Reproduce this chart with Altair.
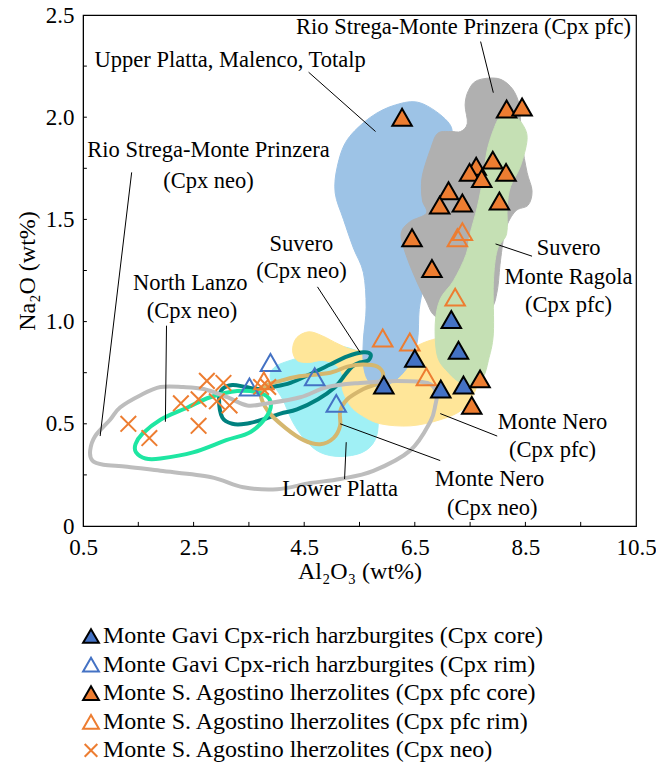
import altair as alt
import pandas as pd

# ---- point data (wt%) ----
GAVI_CORE_X = [7.16, 7.29, 6.50, 5.94, 6.97, 7.38]
GAVI_CORE_Y = [1.01, 0.86, 0.82, 0.69, 0.67, 0.69]
GAVI_RIM_X = [3.89, 3.51, 4.69, 5.08]
GAVI_RIM_Y = [0.80, 0.68, 0.73, 0.60]
AGO_PFC_CORE_X = [6.27, 8.16, 8.44, 7.91, 7.61, 7.49, 7.71, 8.15, 7.11, 6.95, 7.36, 8.03, 6.45, 6.81, 7.68, 7.53]
AGO_PFC_CORE_Y = [2.00, 2.04, 2.05, 1.79, 1.76, 1.73, 1.70, 1.73, 1.64, 1.57, 1.58, 1.59, 1.41, 1.26, 0.72, 0.59]
AGO_PFC_RIM_X = [7.36, 7.27, 7.23, 5.92, 6.41, 6.71, 3.77]
AGO_PFC_RIM_Y = [1.44, 1.41, 1.12, 0.92, 0.90, 0.73, 0.71]
AGO_NEO_X = [1.32, 1.70, 2.27, 2.59, 2.59, 2.74, 3.04, 2.92, 3.15, 3.72, 3.85]
AGO_NEO_Y = [0.50, 0.43, 0.60, 0.62, 0.49, 0.71, 0.70, 0.61, 0.59, 0.68, 0.68]

SERIES = [
    "Monte Gavi Cpx-rich harzburgites (Cpx core)",
    "Monte Gavi Cpx-rich harzburgites (Cpx rim)",
    "Monte S. Agostino lherzolites (Cpx pfc core)",
    "Monte S. Agostino lherzolites (Cpx pfc rim)",
    "Monte S. Agostino lherzolites (Cpx neo)",
]
ORANGE = "#ED7D31"
BLUE = "#4472C4"
X_SHAPE = "M-0.8,-0.8L0.8,0.8M-0.8,0.8L0.8,-0.8"
SHAPES = ["triangle-up", "triangle-up", "triangle-up", "triangle-up", X_SHAPE]
FILLS = [BLUE, "transparent", ORANGE, "transparent", "transparent"]
STROKES = ["#000000", BLUE, "#000000", ORANGE, ORANGE]

# ---- literature fields (filled) ----
UPPER_PLATTA_X = [6.60, 7.09, 7.18, 7.11, 6.99, 6.83, 6.67, 6.58, 6.55, 6.42, 6.18, 5.88, 5.66, 5.57, 5.57, 5.62, 5.57, 5.39, 5.21, 5.06, 5.10, 5.28, 5.70, 6.15]
UPPER_PLATTA_Y = [2.07, 1.98, 1.89, 1.69, 1.50, 1.33, 1.18, 1.06, 0.91, 0.80, 0.72, 0.68, 0.71, 0.79, 0.91, 1.07, 1.24, 1.36, 1.50, 1.63, 1.76, 1.89, 2.00, 2.06]
RIO_PFC_X = [7.63, 7.99, 8.23, 8.37, 8.41, 8.44, 8.53, 8.62, 8.55, 8.32, 8.14, 8.05, 7.99, 7.87, 7.50, 6.91, 6.69, 6.45, 6.29, 6.26, 6.42, 6.71, 6.64, 6.62, 6.65, 6.78, 6.91, 7.14, 7.33, 7.45, 7.41, 7.47]
RIO_PFC_Y = [2.18, 2.19, 2.15, 2.08, 1.99, 1.87, 1.73, 1.64, 1.57, 1.54, 1.45, 1.30, 1.15, 1.06, 1.01, 1.02, 1.11, 1.25, 1.37, 1.44, 1.49, 1.53, 1.59, 1.66, 1.73, 1.84, 1.92, 1.93, 1.93, 1.97, 2.06, 2.13]
SUVERO_PFC_X = [8.05, 8.28, 8.46, 8.53, 8.41, 8.23, 8.17, 8.16, 7.99, 7.92, 7.92, 7.83, 7.74, 7.56, 7.33, 7.11, 6.91, 6.87, 6.96, 7.20, 7.43, 7.50, 7.63, 7.74, 7.81, 7.94]
SUVERO_PFC_Y = [2.00, 2.01, 1.96, 1.89, 1.76, 1.66, 1.56, 1.43, 1.35, 1.19, 0.94, 0.81, 0.73, 0.68, 0.70, 0.75, 0.83, 0.99, 1.11, 1.20, 1.33, 1.43, 1.56, 1.71, 1.84, 1.95]
NERO_PFC_X = [4.29, 4.36, 4.58, 4.83, 5.12, 5.42, 5.97, 6.42, 6.69, 6.96, 7.29, 7.54, 7.67, 7.59, 7.36, 6.96, 6.42, 5.88, 5.55, 5.33, 5.19, 5.19, 5.06, 4.83, 4.58, 4.37]
NERO_PFC_Y = [0.86, 0.92, 0.95, 0.93, 0.89, 0.86, 0.85, 0.87, 0.90, 0.92, 0.92, 0.87, 0.77, 0.66, 0.57, 0.52, 0.49, 0.50, 0.54, 0.59, 0.67, 0.74, 0.79, 0.81, 0.80, 0.81]
LOWER_PLATTA_X = [3.89, 3.98, 4.36, 4.70, 5.06, 5.42, 5.66, 5.78, 5.84, 5.78, 5.55, 5.15, 4.79, 4.52, 4.29, 4.11]
LOWER_PLATTA_Y = [0.72, 0.78, 0.82, 0.85, 0.88, 0.86, 0.81, 0.67, 0.52, 0.42, 0.36, 0.34, 0.36, 0.42, 0.51, 0.62]

# ---- literature fields (outlined) ----
RIO_NEO_X = [0.63, 0.72, 0.99, 1.17, 1.54, 1.90, 2.31, 2.68, 3.11, 3.47, 3.83, 4.43, 4.92, 5.51, 6.18, 6.73, 6.89, 6.87, 6.78, 6.42, 5.75, 5.15, 4.61, 4.01, 3.40, 2.80, 1.90, 1.30, 0.87, 0.67]
RIO_NEO_Y = [0.37, 0.44, 0.52, 0.58, 0.64, 0.68, 0.68, 0.67, 0.63, 0.59, 0.60, 0.63, 0.68, 0.70, 0.71, 0.70, 0.65, 0.59, 0.51, 0.37, 0.27, 0.23, 0.21, 0.18, 0.19, 0.24, 0.27, 0.29, 0.30, 0.32]
LANZO_NEO_X = [1.45, 1.57, 1.90, 2.39, 2.80, 3.29, 3.71, 3.89, 3.83, 3.53, 3.09, 2.49, 1.90, 1.63, 1.46]
LANZO_NEO_Y = [0.40, 0.45, 0.52, 0.58, 0.63, 0.66, 0.65, 0.61, 0.54, 0.46, 0.42, 0.36, 0.33, 0.33, 0.36]
SUVERO_NEO_X = [2.96, 3.02, 3.20, 3.44, 3.67, 3.92, 4.25, 4.66, 4.97, 5.28, 5.57, 5.70, 5.66, 5.51, 5.37, 5.24, 5.06, 4.75, 4.37, 4.07, 3.74, 3.44, 3.20, 3.02]
SUVERO_NEO_Y = [0.62, 0.67, 0.69, 0.68, 0.67, 0.68, 0.70, 0.75, 0.79, 0.83, 0.85, 0.84, 0.81, 0.80, 0.78, 0.74, 0.68, 0.62, 0.57, 0.55, 0.52, 0.50, 0.50, 0.53]
NERO_NEO_X = [3.71, 3.83, 4.07, 4.37, 4.97, 5.28, 5.57, 5.82, 5.93, 5.84, 5.57, 5.28, 5.15, 5.15, 5.03, 4.79, 4.49, 4.16, 3.85]
NERO_NEO_Y = [0.65, 0.69, 0.71, 0.73, 0.75, 0.78, 0.79, 0.78, 0.74, 0.70, 0.67, 0.62, 0.56, 0.49, 0.43, 0.40, 0.42, 0.48, 0.56]

FILLED_FIELDS = [
    (LOWER_PLATTA_X, LOWER_PLATTA_Y, "#A0F0F5"),
    (NERO_PFC_X, NERO_PFC_Y, "#FFE699"),
    (UPPER_PLATTA_X, UPPER_PLATTA_Y, "#9DC3E6"),
    (RIO_PFC_X, RIO_PFC_Y, "#B0B0B0"),
    (SUVERO_PFC_X, SUVERO_PFC_Y, "#C5E0B4"),
]
OUTLINED_FIELDS = [
    (SUVERO_NEO_X, SUVERO_NEO_Y, "#00817F"),
    (NERO_NEO_X, NERO_NEO_Y, "#D5B76E"),
    (LANZO_NEO_X, LANZO_NEO_Y, "#1EE6A2"),
    (RIO_NEO_X, RIO_NEO_Y, "#BDBDBD"),
]

# ---- field labels and leader lines ----
LABEL_TEXT = [
    "Rio Strega-Monte Prinzera (Cpx pfc)", "Upper Platta, Malenco, Totalp",
    "Rio Strega-Monte Prinzera", "(Cpx neo)",
    "Suvero", "(Cpx neo)",
    "North Lanzo", "(Cpx neo)",
    "Suvero", "Monte Ragola", "(Cpx pfc)",
    "Monte Nero", "(Cpx pfc)",
    "Monte Nero", "(Cpx neo)",
    "Lower Platta",
]
LABEL_X = [7.38, 3.16, 2.77, 2.77, 4.45, 4.45, 2.44, 2.47, 9.28, 9.28, 9.28, 8.99, 8.99, 7.85, 7.90, 5.15]
LABEL_Y = [2.44, 2.28, 1.84, 1.69, 1.38, 1.25, 1.19, 1.05, 1.36, 1.22, 1.08, 0.51, 0.37, 0.23, 0.09, 0.18]
LEADER_X = [7.69, 4.58, 1.38, 2.01, 4.74, 7.96, 6.96, 5.15, 5.26]
LEADER_Y = [2.37, 2.22, 1.73, 0.98, 1.17, 1.38, 0.55, 0.50, 0.41]
LEADER_X2 = [7.92, 5.79, 0.81, 1.99, 5.51, 8.62, 7.99, 6.96, 5.23]
LEADER_Y2 = [2.12, 1.93, 0.44, 0.51, 0.85, 1.32, 0.44, 0.32, 0.23]

X_LABELS = [0.5, 2.5, 4.5, 6.5, 8.5, 10.5]
Y_LABELS = [0, 0.5, 1.0, 1.5, 2.0, 2.5]
X_TICKS = [1.5, 2.5, 3.5, 4.5, 5.5, 6.5, 7.5, 8.5, 9.5]
Y_TICKS = [0.25, 0.5, 0.75, 1.0, 1.25, 1.5, 1.75, 2.0, 2.25]

FONT = "Liberation Serif"

x_scale = alt.Scale(domain=[0.5, 10.5], nice=False, zero=False)
y_scale = alt.Scale(domain=[0, 2.5], nice=False, zero=False)
x_axis = alt.Axis(
    values=X_LABELS, format=".1f", tickSize=0, labelPadding=10, grid=False,
    labelFlush=False, labelOverlap=False, labelFont=FONT, labelFontSize=23,
    labelColor="black", domainColor="black", title="Al₂O₃ (wt%)",
    titleFont=FONT, titleFontSize=24, titleFontWeight="normal",
    titleColor="black", titlePadding=0,
)
y_axis = alt.Axis(
    values=Y_LABELS, labelExpr="datum.value == 0 ? '0' : format(datum.value, '.1f')",
    tickSize=0, labelPadding=9, grid=False, labelFlush=False, labelOverlap=False,
    labelFont=FONT, labelFontSize=23, labelColor="black", domainColor="black",
    title="Na₂O (wt%)", titleFont=FONT, titleFontSize=24,
    titleFontWeight="normal", titleColor="black", titlePadding=6,
)


def xy(chart):
    return chart.encode(
        x=alt.X("x:Q", scale=x_scale, axis=x_axis),
        y=alt.Y("y:Q", scale=y_scale, axis=y_axis),
    )


layers = []

for fx, fy, col in FILLED_FIELDS:
    df = pd.DataFrame({"x": fx, "y": fy, "i": range(len(fx))})
    layers.append(
        xy(alt.Chart(df).mark_line(interpolate="cardinal-closed", fill=col,
                                   stroke=col, strokeWidth=1))
        .encode(order="i:Q")
    )

for fx, fy, col in OUTLINED_FIELDS:
    df = pd.DataFrame({"x": fx, "y": fy, "i": range(len(fx))})
    layers.append(
        xy(alt.Chart(df).mark_line(interpolate="cardinal-closed", stroke=col,
                                   strokeWidth=4))
        .encode(order="i:Q")
    )

# inward axis ticks
xt = pd.DataFrame({"x": X_TICKS, "y": [0.0] * len(X_TICKS), "y2": [0.02] * len(X_TICKS)})
layers.append(
    xy(alt.Chart(xt).mark_rule(color="black", strokeWidth=1)).encode(y2="y2:Q")
)
yt = pd.DataFrame({"y": Y_TICKS, "x": [0.5] * len(Y_TICKS), "x2": [0.57] * len(Y_TICKS)})
layers.append(
    xy(alt.Chart(yt).mark_rule(color="black", strokeWidth=1)).encode(x2="x2:Q")
)

# leader lines
ld = pd.DataFrame({"x": LEADER_X, "y": LEADER_Y, "x2": LEADER_X2, "y2": LEADER_Y2})
layers.append(
    xy(alt.Chart(ld).mark_rule(color="black", strokeWidth=1)).encode(x2="x2:Q", y2="y2:Q")
)

# samples
rows = []
for name, xs, ys in [
    (SERIES[4], AGO_NEO_X, AGO_NEO_Y),
    (SERIES[1], GAVI_RIM_X, GAVI_RIM_Y),
    (SERIES[3], AGO_PFC_RIM_X, AGO_PFC_RIM_Y),
    (SERIES[0], GAVI_CORE_X, GAVI_CORE_Y),
    (SERIES[2], AGO_PFC_CORE_X, AGO_PFC_CORE_Y),
]:
    for a, b in zip(xs, ys):
        rows.append({"x": a, "y": b, "series": name})
pts = pd.DataFrame(rows)

legend = alt.Legend(
    orient="none", legendX=-4, legendY=609, direction="vertical",
    labelFont=FONT, labelFontSize=24, labelColor="black", labelLimit=0,
    symbolSize=250, symbolStrokeWidth=2, rowPadding=4.6, labelOffset=0,
)
layers.append(
    xy(alt.Chart(pts).mark_point(opacity=1, size=380, strokeWidth=2)).encode(
        shape=alt.Shape("series:N", title=None, legend=legend,
                        scale=alt.Scale(domain=SERIES, range=SHAPES)),
        fill=alt.Fill("series:N", title=None, legend=legend,
                      scale=alt.Scale(domain=SERIES, range=FILLS)),
        stroke=alt.Stroke("series:N", title=None, legend=legend,
                          scale=alt.Scale(domain=SERIES, range=STROKES)),
    )
)

# field labels
lb = pd.DataFrame({"x": LABEL_X, "y": LABEL_Y, "t": LABEL_TEXT})
layers.append(
    xy(alt.Chart(lb).mark_text(font=FONT, fontSize=22.5, color="black",
                               align="center", baseline="middle")).encode(text="t:N")
)

chart = (
    alt.layer(*layers)
    .properties(
        width=553, height=511,
        autosize=alt.AutoSizeParams(type="none"),
        padding={"left": 83, "top": 15, "right": 20, "bottom": 247},
        background="white",
    )
    .configure_view(stroke="black", strokeWidth=1.2)
)

chart.save("out.html", embed_options={"renderer": "svg", "actions": False})
